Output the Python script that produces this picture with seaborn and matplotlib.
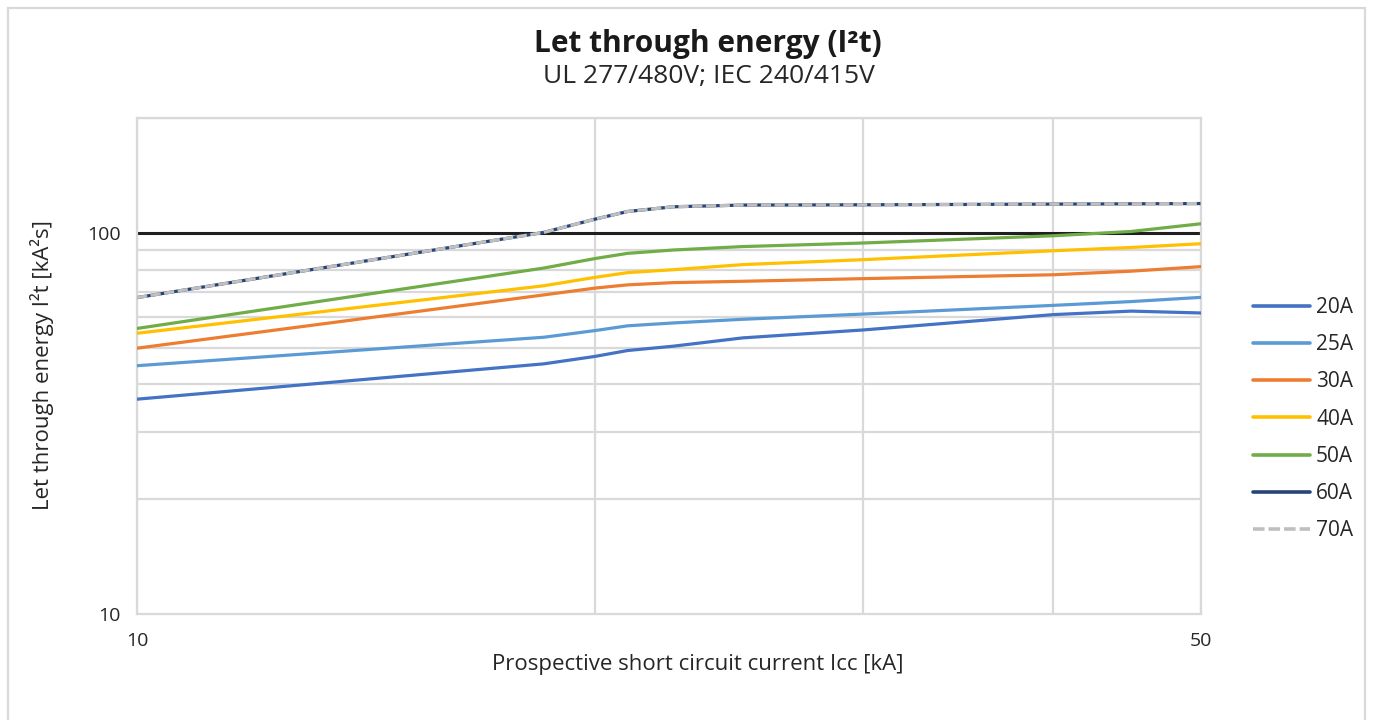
import matplotlib
matplotlib.use("Agg")
import matplotlib.pyplot as plt
from matplotlib.patches import Rectangle
from matplotlib.ticker import FixedLocator, NullFormatter, FixedFormatter
import pandas as pd
import seaborn as sns

# Prospective short circuit current [kA]
x_ka = [10, 18.5, 20, 21, 22.5, 25, 30, 40, 45, 50]

# Let through energy I²t [kA²s] per breaker rating
i2t_20A = [36.6, 45.3, 47.4, 49.1, 50.4, 53.0, 55.6, 61.0, 62.3, 61.6]
i2t_25A = [44.8, 53.2, 55.4, 57.0, 58.0, 59.3, 61.2, 64.5, 66.0, 67.7]
i2t_30A = [49.8, 68.7, 71.6, 73.0, 74.0, 74.6, 75.8, 77.6, 79.3, 81.5]
i2t_40A = [54.5, 72.6, 76.4, 78.6, 80.0, 82.5, 85.0, 89.7, 91.5, 93.6]
i2t_50A = [56.1, 80.8, 85.6, 88.3, 90.1, 92.0, 94.0, 98.2, 100.8, 105.6]
i2t_60A = [67.6, 100.2, 108.6, 113.7, 117.0, 118.2, 118.4, 118.9, 119.1, 119.3]
i2t_70A = [67.6, 100.2, 108.6, 113.7, 117.0, 118.2, 118.4, 118.9, 119.1, 119.3]

series_names = ["20A", "25A", "30A", "40A", "50A", "60A", "70A"]
series_values = [i2t_20A, i2t_25A, i2t_30A, i2t_40A, i2t_50A, i2t_60A, i2t_70A]
series_colors = ["#4472C4", "#5B9BD5", "#ED7D31", "#FFC000", "#70AD47", "#264478", "#BFBFBF"]

x_tick_values = [10, 50]
x_tick_labels = ["10", "50"]
y_tick_values = [10, 100]
y_tick_labels = ["10", "100"]

title = "Let through energy (I²t)"
subtitle = "UL 277/480V; IEC 240/415V"
x_title = "Prospective short circuit current Icc [kA]"
y_title = "Let through energy I²t [kA²s]"

df = pd.DataFrame(
    [(x, y, name) for name, vals in zip(series_names, series_values) for x, y in zip(x_ka, vals)],
    columns=["current", "energy", "rating"],
)

sns.set_theme(style="white")
plt.rcParams["font.family"] = ["Open Sans", "DejaVu Sans"]

W, H = 1373, 720
fig = plt.figure(figsize=(W / 100, H / 100), dpi=100)
ax = fig.add_axes([137 / W, 1 - 614 / H, (1201 - 137) / W, (614 - 118) / H])

grid_c = "#D9D9D9"
text_c = "#262626"

palette = dict(zip(series_names, series_colors))
dashes = {n: "" for n in series_names}
dashes["70A"] = (3.2, 1.1)

sns.lineplot(
    data=df, x="current", y="energy", hue="rating", style="rating",
    palette=palette, dashes=dashes, hue_order=series_names, style_order=series_names,
    estimator=None, sort=False, linewidth=2.3, ax=ax, zorder=3,
)

ax.set_xscale("log")
ax.set_yscale("log")
ax.set_xlim(10, 50)
ax.set_ylim(10, 200)

ax.xaxis.set_major_locator(FixedLocator(x_tick_values))
ax.xaxis.set_major_formatter(FixedFormatter(x_tick_labels))
ax.xaxis.set_minor_locator(FixedLocator([20, 30, 40]))
ax.xaxis.set_minor_formatter(NullFormatter())
ax.yaxis.set_major_locator(FixedLocator(y_tick_values))
ax.yaxis.set_major_formatter(FixedFormatter(y_tick_labels))
ax.yaxis.set_minor_locator(FixedLocator([20, 30, 40, 50, 60, 70, 80, 90, 200]))
ax.yaxis.set_minor_formatter(NullFormatter())

ax.set_axisbelow(True)
ax.grid(True, which="minor", axis="both", color=grid_c, linewidth=1.6)
ax.grid(True, which="major", axis="x", color=grid_c, linewidth=1.6)
ax.grid(False, which="major", axis="y")
# Major horizontal gridline at 100
ax.axhline(100, color="#1F1F1F", linewidth=2.2, zorder=1)

for s in ax.spines.values():
    s.set_visible(True)
    s.set_color(grid_c)
    s.set_linewidth(1.6)

ax.tick_params(axis="both", which="both", length=0, labelsize=14, labelcolor=text_c)
ax.tick_params(axis="x", pad=13)
ax.tick_params(axis="y", pad=12)

ax.set_xlabel(x_title, fontsize=16, color=text_c)
ax.set_ylabel(y_title, fontsize=16, color=text_c)
ax.xaxis.set_label_coords(0.527, -0.080)
ax.yaxis.set_label_coords(-0.078, 0.502)

handles, labels = ax.get_legend_handles_labels()
leg = ax.legend(
    handles, labels, loc="center left", bbox_to_anchor=(1.041, 0.393), frameon=False,
    fontsize=15, handlelength=2.75, handletextpad=0.28, labelspacing=0.78,
    borderaxespad=0,
)
for txt in leg.get_texts():
    txt.set_color(text_c)
for h in leg.get_lines():
    h.set_linewidth(2.6)

fig.text(708 / W, 1 - 44 / H, title, ha="center", va="center", fontsize=21.5,
         fontweight="bold", color="#1A1A1A")
fig.text(709 / W, 1 - 76 / H, subtitle, ha="center", va="center", fontsize=19,
         color=text_c)

# Outer chart frame
fig.patches.append(Rectangle((8 / W, -0.05), (1365 - 8) / W, 1.05 - 7.5 / H,
                             transform=fig.transFigure, fill=False,
                             edgecolor=grid_c, linewidth=1.6))

fig.savefig("out.png", dpi=100)
